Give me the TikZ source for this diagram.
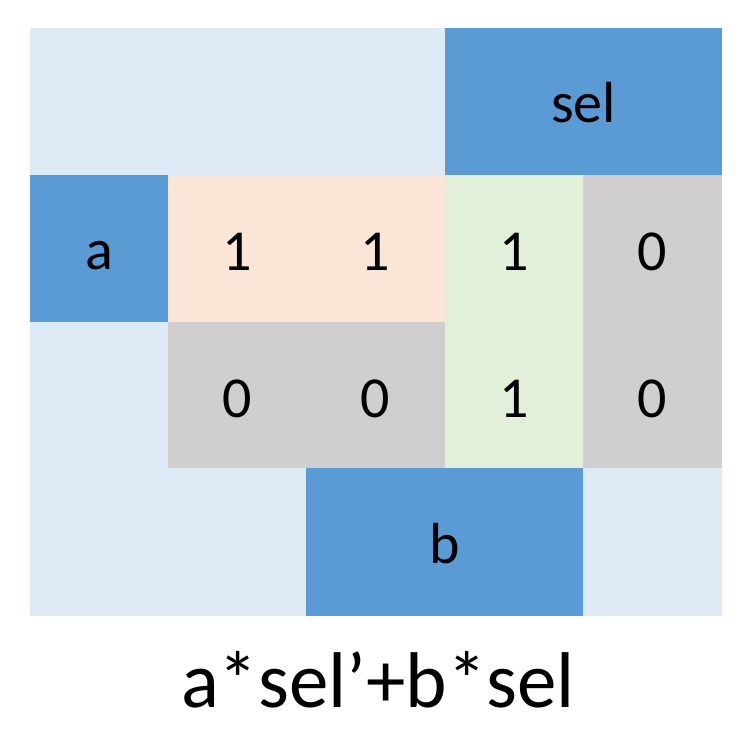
\documentclass[tikz,border=0pt]{standalone}
\usepackage{fontspec}
\setmainfont{Carlito}
\definecolor{lblue}{HTML}{DEEBF7}
\definecolor{dblue}{HTML}{5B9BD5}
\definecolor{peach}{HTML}{FBE5D6}
\definecolor{lgreen}{HTML}{E2F0D9}
\definecolor{lgray}{HTML}{D0CECE}
\tikzset{
  cell/.style={font=\fontsize{58}{60}\selectfont, text=black, inner sep=0pt, anchor=base},
  caption/.style={font=\fontsize{79}{81}\selectfont, text=black, inner sep=0pt, anchor=base}
}
\begin{document}
\begin{tikzpicture}[x=1pt,y=-1pt]
\useasboundingbox (0,0) rectangle (753,731);
% backgrounds
\fill[lblue] (30,28) rectangle (722,616);
\fill[dblue] (445,28) rectangle (722,175);
\fill[dblue] (30,175) rectangle (168,322);
\fill[peach] (168,175) rectangle (445,322);
\fill[lgreen] (445,175) rectangle (583,468);
\fill[lgray] (583,175) rectangle (722,468);
\fill[lgray] (168,322) rectangle (445,468);
\fill[dblue] (306,468) rectangle (583,616);
% labels
\node[cell] (sel) at (583.5,122) {sel};
\node[cell] (a) at (99,269) {a};
\node[cell] (b) at (444.5,563) {b};
\node[cell] (c11) at (237,270) {1};
\node[cell] (c12) at (375.5,270) {1};
\node[cell] (c13) at (514,270) {1};
\node[cell] (c14) at (652.5,270) {0};
\node[cell] (c21) at (237,417) {0};
\node[cell] (c22) at (375.5,417) {0};
\node[cell] (c23) at (514,417) {1};
\node[cell] (c24) at (652.5,417) {0};
\node[caption] (cap) at (378,707) {a*sel’+b*sel};
\end{tikzpicture}
\end{document}
